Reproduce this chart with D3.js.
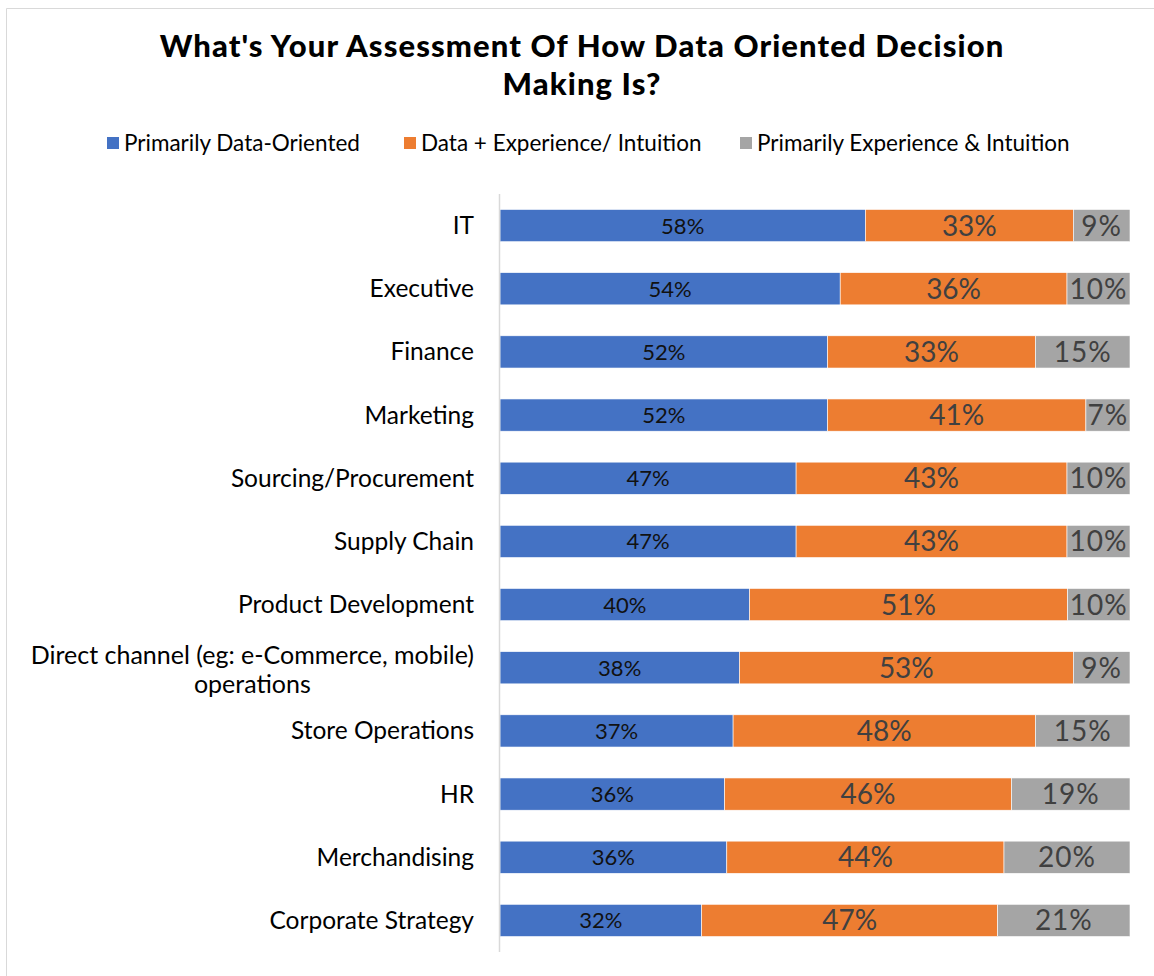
<!DOCTYPE html>
<html lang="en">
<head>
<meta charset="utf-8">
<title>Data oriented decision making</title>
<script src="https://cdn.jsdelivr.net/npm/d3@7"></script>
<style>
  body { margin: 0; background: #fff; }
  svg { display: block; font-family: Lato, "Noto Sans", sans-serif; }
</style>
</head>
<body>
<div id="chart"></div>
<script>
// data
var categories = ["IT", "Executive", "Finance", "Marketing", "Sourcing/Procurement", "Supply Chain",
  "Product Development", "Direct channel (eg: e-Commerce, mobile) operations", "Store Operations",
  "HR", "Merchandising", "Corporate Strategy"]
var dataOriented = [58, 54, 52, 52, 47, 47, 40, 38, 37, 36, 36, 32]
var dataExperience = [33, 36, 33, 41, 43, 43, 51, 53, 48, 46, 44, 47]
var experienceIntuition = [9, 10, 15, 7, 10, 10, 10, 9, 15, 19, 20, 21]
var seriesNames = ["Primarily Data-Oriented", "Data + Experience/ Intuition", "Primarily Experience & Intuition"]
var colors = ["#4472C4", "#ED7D31", "#A5A5A5"]

var w = 1154, h = 976
var svg = d3.select("#chart").append("svg").attr("width", w).attr("height", h)

// chart frame
svg.append("path")
  .attr("d", "M6.5," + h + " V8.5 H" + w)
  .attr("fill", "none").attr("stroke", "#d9d9d9").attr("stroke-width", 1)

// title
var title = svg.append("text")
  .attr("text-anchor", "middle")
  .attr("font-size", 31).attr("font-weight", 900).attr("fill", "#000")
  .attr("letter-spacing", 1.1)
title.append("tspan").attr("x", 582).attr("y", 57).text("What's Your Assessment Of How Data Oriented Decision")
title.append("tspan").attr("x", 582).attr("y", 95).text("Making Is?")

// legend
var legendX = [107, 404, 740]
var legend = svg.selectAll(".legend").data(seriesNames).enter().append("g")
  .attr("transform", function(d, i) { return "translate(" + legendX[i] + ",143)" })
legend.append("rect").attr("x", 0).attr("y", -6).attr("width", 12).attr("height", 12)
  .attr("fill", function(d, i) { return colors[i] })
legend.append("text").attr("x", 17).attr("dy", "0.35em").attr("font-size", 22.5).attr("fill", "#000")
  .text(function(d) { return d })

// scales
var x = d3.scaleLinear().domain([0, 1]).range([500, 1130])
var y = d3.scaleBand().domain(categories).range([194, 952]).paddingInner(0.49).paddingOuter(0.245)

var rows = categories.map(function(c, i) {
  return { cat: c, v0: dataOriented[i], v1: dataExperience[i], v2: experienceIntuition[i] }
})
var stack = d3.stack().keys(["v0", "v1", "v2"])
  .offset(d3.stackOffsetExpand)
var layers = stack(rows)

var g = svg.selectAll(".layer").data(layers).enter().append("g")
  .attr("fill", function(d, i) { return colors[i] })

g.selectAll("rect").data(function(d) { return d }).enter().append("rect")
  .attr("x", function(d) { return x(d[0]) })
  .attr("y", function(d) { return y(d.data.cat) })
  .attr("width", function(d) { return x(d[1]) - x(d[0]) })
  .attr("height", y.bandwidth())
  .attr("stroke", "#fff").attr("stroke-width", 0.6)

// value labels
g.selectAll("text").data(function(d) { var k = d.key; return d.map(function(p) { p.key = k; return p }) })
  .enter().append("text")
  .attr("x", function(d) { return (x(d[0]) + x(d[1])) / 2 })
  .attr("y", function(d) { return y(d.data.cat) + y.bandwidth() / 2 })
  .attr("dy", "0.36em")
  .attr("text-anchor", "middle")
  .attr("font-size", function(d) { return d.key == "v0" ? 22 : 28 })
  .attr("fill", function(d) { return d.key == "v0" ? "#111" : "#404040" })
  .attr("letter-spacing", function(d) { return d.key == "v2" ? 1 : 0 })
  .text(function(d) { return d.data[d.key] + "%" })

// category axis
svg.append("line")
  .attr("x1", 499.5).attr("x2", 499.5).attr("y1", 194).attr("y2", 952)
  .attr("stroke", "#d9d9d9").attr("stroke-width", 1.5)

categories.forEach(function(c) {
  var cy = y(c) + y.bandwidth() / 2
  if (c.indexOf("Direct channel") == 0) {
    var t1 = svg.append("text").attr("x", 474).attr("y", cy - 13).attr("dy", "0.35em")
      .attr("text-anchor", "end").attr("font-size", 25).attr("fill", "#000")
      .text("Direct channel (eg: e-Commerce, mobile)")
    var len = t1.node().getComputedTextLength()
    svg.append("text").attr("x", 474 - len / 2).attr("y", cy + 16).attr("dy", "0.35em")
      .attr("text-anchor", "middle").attr("font-size", 25).attr("fill", "#000")
      .text("operations")
  } else {
    svg.append("text").attr("x", 474).attr("y", cy).attr("dy", "0.35em")
      .attr("text-anchor", "end").attr("font-size", 24.5).attr("fill", "#000")
      .text(c)
  }
})
</script>
</body>
</html>
